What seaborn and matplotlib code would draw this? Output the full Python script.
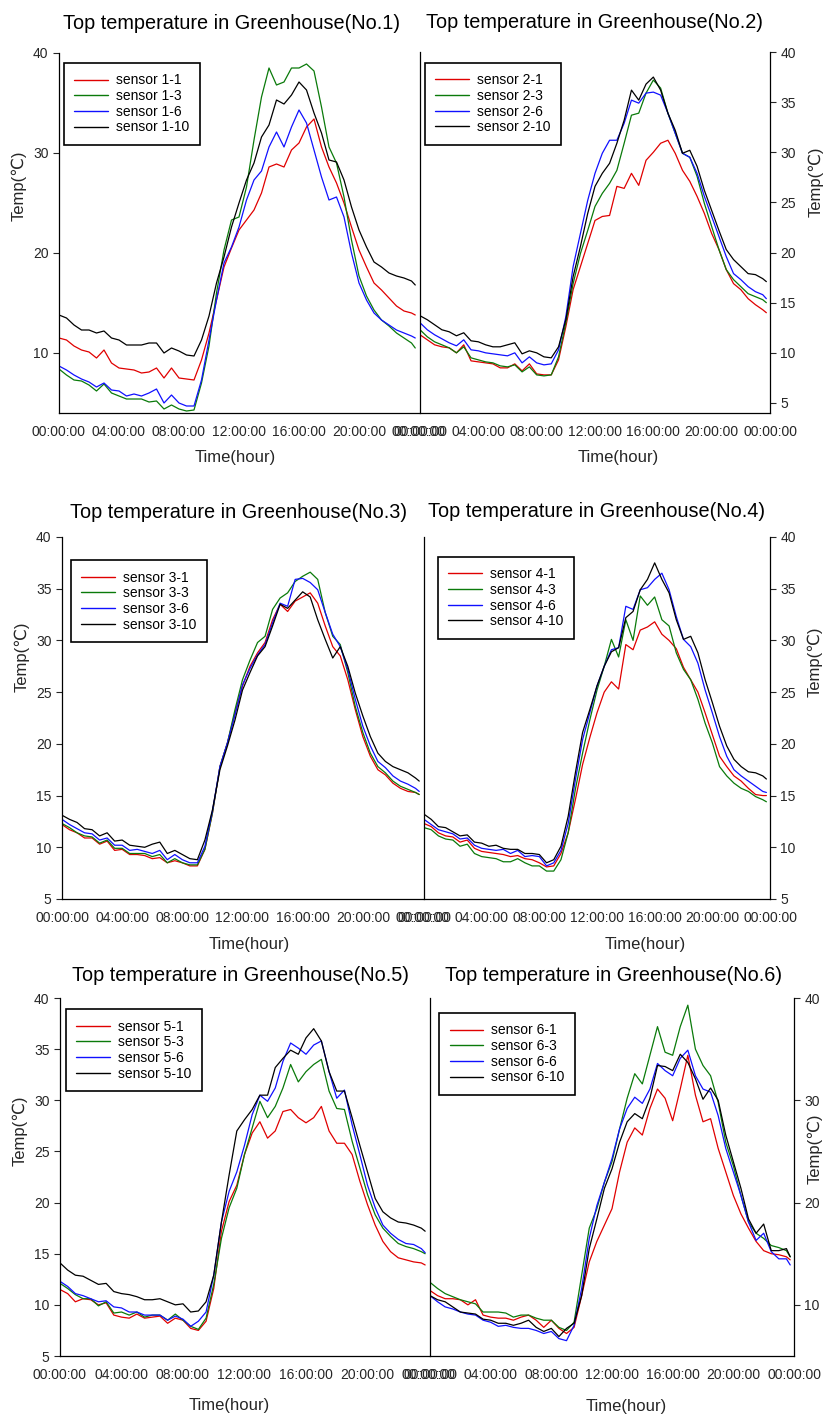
import pandas as pd
import matplotlib
matplotlib.use("Agg")
import matplotlib.pyplot as plt
import seaborn as sns
from matplotlib.lines import Line2D
from matplotlib.ticker import MultipleLocator

# -------------------------------
# Data (deg C every half hour)
# -------------------------------
HOURS = [0.0, 0.5, 1.0, 1.5, 2.0, 2.5, 3.0, 3.5, 4.0, 4.5, 5.0, 5.5,
         6.0, 6.5, 7.0, 7.5, 8.0, 8.5, 9.0, 9.5, 10.0, 10.5, 11.0, 11.5,
         12.0, 12.5, 13.0, 13.5, 14.0, 14.5, 15.0, 15.5, 16.0, 16.5, 17.0, 17.5,
         18.0, 18.5, 19.0, 19.5, 20.0, 20.5, 21.0, 21.5, 22.0, 22.5, 23.0, 23.5,
         23.75]

TICK_HOURS = [0, 4, 8, 12, 16, 20, 24]
TICK_LABELS = ["00:00:00", "04:00:00", "08:00:00", "12:00:00",
               "16:00:00", "20:00:00", "00:00:00"]

SENSORS = ["1", "3", "6", "10"]
COLORS = ["#e00000", "#0a7a0a", "#1010ff", "#000000"]

# Greenhouse No.1
GH1_S1 = [11.5, 11.3, 10.7, 10.3, 10.1, 9.5, 10.3, 9.0, 8.5, 8.4, 8.3, 8.0, 8.1, 8.5, 7.5, 8.5, 7.5, 7.4, 7.3,
          9.3, 12.0, 15.3, 18.6, 20.5, 22.3, 23.3, 24.3, 26.0, 28.6, 28.9, 28.6, 30.3, 31.0, 32.6, 33.4,
          30.6, 28.6, 27.0, 25.0, 22.6, 20.3, 18.6, 17.0, 16.3, 15.5, 14.7, 14.2, 14.0, 13.8]
GH1_S3 = [8.4, 7.8, 7.3, 7.2, 6.8, 6.2, 6.9, 6.0, 5.7, 5.4, 5.4, 5.4, 5.1, 5.2, 4.4, 4.8, 4.4, 4.2, 4.3,
          7.0, 10.7, 16.0, 20.3, 23.3, 23.6, 26.6, 31.3, 35.6, 38.5, 36.8, 37.1, 38.5, 38.5, 38.9, 38.2,
          34.6, 30.6, 29.0, 25.6, 21.3, 17.7, 15.7, 14.3, 13.3, 12.7, 12.0, 11.5, 11.0, 10.5]
GH1_S6 = [8.7, 8.3, 7.8, 7.4, 7.1, 6.6, 7.0, 6.3, 6.2, 5.7, 5.9, 5.7, 6.0, 6.4, 5.0, 5.8, 5.0, 4.7, 4.7,
          7.3, 11.3, 15.3, 19.0, 20.6, 22.6, 25.3, 27.3, 28.2, 30.6, 32.1, 30.6, 32.6, 34.3, 33.0, 30.3,
          27.6, 25.3, 25.6, 23.6, 20.0, 17.0, 15.3, 14.0, 13.3, 12.8, 12.3, 12.0, 11.7, 11.5]
GH1_S10 = [13.8, 13.5, 12.8, 12.3, 12.3, 12.0, 12.2, 11.5, 11.3, 10.8, 10.8, 10.8, 11.0, 11.0, 10.0, 10.5, 10.2, 9.8, 9.7,
           11.3, 13.7, 17.0, 19.6, 22.6, 25.0, 27.3, 29.0, 31.6, 32.8, 35.3, 34.9, 35.8, 37.1, 36.3, 34.0,
           32.0, 29.3, 29.1, 27.3, 24.6, 22.3, 20.6, 19.1, 18.6, 18.0, 17.7, 17.5, 17.2, 16.8]

# Greenhouse No.2
GH2_S1 = [11.8, 11.3, 10.8, 10.6, 10.5, 10.0, 10.8, 9.2, 9.1, 9.0, 8.9, 8.5, 8.5, 8.9, 8.2, 8.9, 7.9, 7.8, 7.8,
          9.3, 12.6, 16.3, 18.6, 20.9, 23.2, 23.6, 23.7, 26.6, 26.4, 27.9, 26.7, 29.2, 30.0, 30.9, 31.2,
          29.9, 28.2, 27.1, 25.6, 23.9, 21.9, 20.3, 18.3, 16.9, 16.3, 15.4, 14.8, 14.3, 14.0]
GH2_S3 = [12.3, 11.6, 11.1, 10.8, 10.5, 10.0, 10.6, 9.5, 9.3, 9.1, 9.0, 8.7, 8.6, 8.8, 8.1, 8.6, 7.8, 7.7, 7.8,
          9.6, 13.0, 16.9, 19.9, 22.2, 24.6, 25.9, 26.9, 28.2, 30.9, 33.7, 33.9, 35.9, 37.2, 36.4, 33.9,
          31.9, 29.9, 29.5, 27.6, 24.9, 22.6, 20.3, 18.3, 17.3, 16.6, 15.9, 15.6, 15.3, 15.0]
GH2_S6 = [13.0, 12.3, 11.8, 11.4, 11.0, 10.7, 11.3, 10.3, 10.2, 10.0, 9.9, 9.8, 9.7, 10.0, 9.0, 9.6, 9.0, 8.8, 8.9,
          10.3, 13.6, 18.6, 21.9, 25.2, 27.9, 29.9, 31.2, 31.2, 32.9, 35.2, 34.9, 35.9, 36.0, 35.7, 33.9,
          31.9, 29.9, 29.5, 27.9, 25.6, 23.6, 21.6, 19.6, 17.9, 17.3, 16.6, 16.1, 15.8, 15.4]
GH2_S10 = [13.7, 13.3, 12.8, 12.3, 12.1, 11.7, 12.0, 11.2, 11.1, 10.8, 10.6, 10.6, 10.8, 11.0, 9.9, 10.2, 10.0, 9.6, 9.5,
           10.6, 13.3, 17.6, 20.6, 23.9, 26.6, 27.9, 28.9, 30.9, 33.2, 36.2, 35.2, 36.8, 37.5, 36.2, 33.9,
           32.2, 29.9, 30.2, 28.6, 26.2, 24.2, 22.2, 20.3, 19.3, 18.6, 17.9, 17.8, 17.4, 17.1]

# Greenhouse No.3
GH3_S1 = [12.2, 11.7, 11.4, 10.9, 10.9, 10.3, 10.6, 9.7, 9.8, 9.3, 9.3, 9.2, 8.9, 9.0, 8.5, 8.7, 8.5, 8.2, 8.2,
          9.8, 13.3, 17.8, 20.1, 23.0, 25.6, 27.5, 28.8, 29.8, 32.0, 33.5, 32.8, 33.8, 34.2, 34.6, 33.6,
          31.4, 29.4, 28.5, 26.2, 23.3, 20.7, 18.8, 17.5, 17.0, 16.2, 15.7, 15.4, 15.3, 15.1]
GH3_S3 = [12.3, 11.9, 11.4, 11.1, 11.0, 10.4, 10.7, 9.9, 9.9, 9.4, 9.4, 9.4, 9.1, 9.3, 8.5, 8.9, 8.5, 8.3, 8.3,
          9.8, 13.3, 17.8, 20.1, 23.3, 26.2, 28.1, 29.8, 30.4, 33.0, 34.1, 34.6, 35.7, 36.2, 36.6, 35.9,
          32.7, 30.4, 29.6, 26.9, 23.6, 21.1, 19.1, 17.8, 17.2, 16.4, 15.9, 15.6, 15.3, 15.1]
GH3_S6 = [12.7, 12.2, 11.8, 11.4, 11.3, 10.7, 10.9, 10.2, 10.2, 9.7, 9.8, 9.6, 9.4, 9.7, 8.8, 9.3, 8.8, 8.5, 8.5,
          10.1, 13.5, 17.8, 20.1, 22.8, 25.7, 27.3, 28.6, 29.6, 31.7, 33.6, 33.3, 35.9, 36.0, 35.6, 34.9,
          32.7, 30.6, 29.4, 27.2, 24.3, 21.7, 19.8, 18.3, 17.7, 16.9, 16.4, 16.1, 15.7, 15.4]
GH3_S10 = [13.1, 12.7, 12.4, 11.8, 11.7, 11.1, 11.4, 10.6, 10.7, 10.2, 10.1, 10.0, 10.3, 10.5, 9.4, 9.7, 9.3, 8.9, 8.8,
           10.7, 13.6, 17.5, 19.8, 22.3, 25.2, 26.9, 28.5, 29.4, 31.4, 33.5, 33.1, 33.9, 34.7, 34.2, 32.0,
           30.1, 28.3, 29.4, 27.5, 24.9, 22.7, 20.7, 19.1, 18.3, 17.8, 17.5, 17.2, 16.7, 16.4]

# Greenhouse No.4
GH4_S1 = [12.3, 12.0, 11.4, 11.1, 11.0, 10.5, 10.7, 9.9, 9.6, 9.5, 9.4, 9.3, 9.1, 9.2, 8.9, 8.8, 8.5, 8.1, 8.2,
          9.4, 11.4, 14.6, 18.0, 20.6, 23.0, 25.0, 26.0, 25.3, 29.6, 29.1, 31.0, 31.3, 31.8, 30.6, 30.0,
          29.2, 27.4, 26.2, 25.0, 23.0, 20.9, 18.8, 17.8, 16.9, 16.4, 15.7, 15.1, 15.0, 15.0]
GH4_S3 = [11.9, 11.7, 11.1, 10.8, 10.7, 10.1, 10.3, 9.4, 9.1, 9.0, 8.9, 8.6, 8.6, 8.9, 8.5, 8.2, 8.2, 7.7, 7.7,
          8.8, 11.4, 15.6, 19.1, 22.3, 25.2, 27.5, 30.1, 28.4, 32.0, 30.0, 34.3, 33.4, 34.2, 32.0, 31.4,
          28.8, 27.2, 26.2, 24.3, 22.0, 20.1, 17.8, 16.9, 16.2, 15.7, 15.4, 14.9, 14.6, 14.4]
GH4_S6 = [12.7, 12.2, 11.7, 11.5, 11.3, 10.8, 10.9, 10.2, 9.9, 9.8, 9.7, 9.8, 9.4, 9.7, 9.1, 9.2, 9.1, 8.2, 8.5,
          9.7, 12.3, 16.5, 20.4, 23.0, 25.6, 27.5, 29.1, 29.3, 33.3, 33.0, 34.9, 35.1, 35.9, 36.5, 34.9,
          32.3, 30.1, 29.4, 27.8, 25.2, 23.0, 20.7, 18.8, 17.5, 16.9, 16.4, 15.9, 15.4, 15.3]
GH4_S10 = [13.2, 12.7, 12.0, 11.9, 11.5, 11.1, 11.2, 10.5, 10.4, 10.1, 10.2, 9.9, 9.8, 9.8, 9.4, 9.4, 9.3, 8.5, 8.8,
           10.1, 13.0, 17.2, 21.1, 23.3, 25.6, 27.5, 28.9, 29.3, 32.2, 32.8, 34.9, 35.9, 37.5, 35.9, 34.6,
           32.0, 30.1, 30.4, 28.8, 26.2, 24.0, 21.7, 19.8, 18.5, 17.8, 17.3, 17.2, 16.9, 16.6]

# Greenhouse No.5
GH5_S1 = [11.5, 11.1, 10.3, 10.6, 10.5, 10.0, 10.2, 9.0, 8.8, 8.7, 9.1, 8.7, 8.8, 8.9, 8.2, 8.7, 8.5, 7.7, 7.5,
          8.4, 11.6, 17.2, 20.1, 21.7, 24.7, 26.8, 27.9, 26.3, 27.0, 28.9, 29.1, 28.3, 27.8, 28.3, 29.4,
          27.0, 25.8, 25.8, 24.7, 22.1, 19.8, 17.8, 16.2, 15.2, 14.6, 14.4, 14.2, 14.1, 13.9]
GH5_S3 = [12.1, 11.6, 11.0, 10.6, 10.6, 9.9, 10.3, 9.2, 9.3, 9.0, 9.3, 8.8, 9.0, 9.0, 8.5, 9.1, 8.5, 7.9, 7.6,
          8.7, 12.0, 16.5, 19.5, 21.4, 24.7, 27.3, 29.9, 28.3, 29.4, 31.2, 33.5, 31.8, 32.8, 33.5, 34.0,
          30.9, 29.2, 29.1, 26.0, 23.4, 20.8, 18.8, 17.5, 16.7, 16.0, 15.7, 15.5, 15.2, 15.0]
GH5_S6 = [12.3, 11.8, 11.1, 10.9, 10.6, 10.3, 10.4, 9.8, 9.7, 9.3, 9.3, 9.0, 9.0, 9.0, 8.5, 8.9, 8.6, 7.9, 8.4,
          9.3, 12.9, 18.1, 21.1, 23.0, 25.6, 28.6, 30.5, 29.9, 31.2, 33.8, 35.6, 35.1, 34.5, 35.4, 35.8,
          32.8, 30.2, 31.0, 27.6, 24.7, 21.7, 19.5, 17.8, 17.0, 16.4, 16.0, 15.9, 15.5, 15.1]
GH5_S10 = [14.1, 13.4, 12.9, 12.8, 12.4, 12.0, 12.1, 11.3, 11.1, 11.0, 10.8, 10.5, 10.5, 10.6, 10.3, 10.0, 10.1, 9.3, 9.4,
           10.3, 12.9, 18.1, 22.7, 27.0, 28.1, 29.1, 30.5, 30.5, 33.2, 34.1, 34.9, 34.5, 36.1, 37.0, 35.8,
           32.8, 30.9, 30.9, 28.3, 25.6, 23.0, 20.4, 19.1, 18.5, 18.1, 18.0, 17.8, 17.5, 17.2]

# Greenhouse No.6
GH6_S1 = [11.4, 10.9, 10.6, 10.6, 10.5, 10.0, 10.5, 9.0, 8.8, 8.7, 8.7, 8.5, 8.8, 9.0, 8.5, 7.8, 8.5, 7.7, 7.2,
          7.8, 10.9, 14.2, 16.2, 17.8, 19.4, 23.0, 25.9, 27.3, 26.6, 29.2, 31.1, 30.2, 28.0, 31.1, 34.4,
          30.5, 27.9, 28.2, 25.3, 23.0, 20.7, 18.9, 17.5, 16.2, 15.3, 15.0, 14.9, 14.7, 14.4]
GH6_S3 = [12.2, 11.6, 11.1, 10.8, 10.5, 10.3, 10.1, 9.3, 9.3, 9.3, 9.2, 8.8, 9.0, 9.0, 8.7, 8.5, 8.5, 7.8, 7.5,
          8.3, 12.9, 17.5, 19.4, 22.0, 24.0, 27.2, 30.2, 32.6, 31.6, 34.4, 37.2, 34.7, 34.4, 37.2, 39.3,
          35.0, 33.4, 32.4, 29.8, 25.9, 23.6, 20.7, 18.1, 17.0, 16.5, 15.8, 15.6, 15.3, 14.7]
GH6_S6 = [10.9, 10.3, 9.8, 9.6, 9.3, 9.1, 9.0, 8.5, 8.3, 7.9, 8.0, 7.8, 7.7, 7.7, 7.5, 7.2, 7.4, 6.7, 6.5,
          8.0, 11.6, 16.5, 19.7, 22.0, 24.3, 27.2, 29.2, 30.3, 29.7, 31.1, 33.6, 32.9, 32.4, 34.1, 34.9,
          32.4, 31.1, 30.8, 28.5, 25.3, 23.0, 20.7, 18.1, 16.3, 17.0, 15.2, 14.5, 14.5, 13.9]
GH6_S10 = [10.9, 10.5, 10.3, 9.8, 9.3, 9.2, 9.1, 8.6, 8.5, 8.2, 8.2, 8.0, 8.2, 8.5, 7.8, 7.4, 7.7, 6.9, 7.7,
           8.2, 10.9, 15.5, 18.4, 21.4, 23.3, 25.9, 27.9, 28.7, 28.2, 30.2, 33.4, 33.3, 32.9, 34.5, 33.7,
           32.1, 30.1, 31.2, 30.0, 26.6, 24.0, 21.4, 18.4, 17.0, 17.9, 15.3, 15.3, 15.5, 14.7]

GREENHOUSES = {
    1: [GH1_S1, GH1_S3, GH1_S6, GH1_S10],
    2: [GH2_S1, GH2_S3, GH2_S6, GH2_S10],
    3: [GH3_S1, GH3_S3, GH3_S6, GH3_S10],
    4: [GH4_S1, GH4_S3, GH4_S6, GH4_S10],
    5: [GH5_S1, GH5_S3, GH5_S6, GH5_S10],
    6: [GH6_S1, GH6_S3, GH6_S6, GH6_S10],
}

# -------------------------------
# Layout (pixel boxes on an 826x1418 canvas)
# -------------------------------
W, H = 826, 1418
LAYOUT = {
    # no: (x0, x1, y0, y1, ymin, ytick step, side, title x, title pad, xlabel x, xlabel y, ylabel x, ylabel y, legend x, legend y)
    1: (59, 419, 53, 413, 4, 10, "left", 0.48, 17.3, 0.49, -0.103, -0.089, 0.63, 0.014, 0.972),
    2: (420, 770, 52, 413, 4, 5, "right", 0.50, 17.3, 0.566, -0.102, 1.109, 0.64, 0.014, 0.970),
    3: (62, 423, 537, 899, 5, 5, "left", 0.49, 13.7, 0.52, -0.105, -0.089, 0.67, 0.025, 0.936),
    4: (424, 770, 537, 899, 5, 5, "right", 0.50, 14.4, 0.64, -0.105, 1.107, 0.655, 0.040, 0.945),
    5: (60, 429, 998, 1356, 5, 5, "left", 0.49, 12.2, 0.46, -0.117, -0.089, 0.63, 0.016, 0.969),
    6: (430, 794, 998, 1356, 5, 10, "right", 0.503, 12.2, 0.54, -0.120, 1.036, 0.58, 0.025, 0.958),
}


def build_frame(no):
    """Long-form table for one greenhouse."""
    rows = []
    for sid, values in zip(SENSORS, GREENHOUSES[no]):
        rows.append(pd.DataFrame({"hour": HOURS, "temp": values,
                                  "sensor": f"sensor {no}-{sid}"}))
    return pd.concat(rows, ignore_index=True)


def draw_panel(fig, no):
    x0, x1, y0, y1, ymin, ystep, side, tx, tpad, lx, ly, yx, yy, gx, gy = LAYOUT[no]
    ax = fig.add_axes([x0 / W, 1 - y1 / H, (x1 - x0) / W, (y1 - y0) / H])
    df = build_frame(no)
    labels = [f"sensor {no}-{s}" for s in SENSORS]

    sns.lineplot(data=df, x="hour", y="temp", hue="sensor", hue_order=labels,
                 palette=COLORS, linewidth=0.9, estimator=None, legend=False, ax=ax)

    ax.set_xlim(0, 24)
    ax.set_ylim(ymin, 40)
    ax.set_xticks(TICK_HOURS)
    ax.set_xticklabels(TICK_LABELS)
    ax.xaxis.set_minor_locator(MultipleLocator(1))
    ax.set_yticks(list(range(40 - ystep * (35 // ystep), 41, ystep)))

    ax.spines["top"].set_visible(False)
    for sp in ax.spines.values():
        sp.set_linewidth(0.9)
        sp.set_color("black")
    ax.tick_params(axis="x", which="major", direction="out", length=4.5, width=0.8,
                   pad=4, labelsize=10, top=False)
    ax.tick_params(axis="x", which="minor", direction="out", length=2.5, width=0.8, top=False)

    if side == "left":
        ax.spines["right"].set_visible(False)
        ax.tick_params(axis="y", direction="out", length=4.5, width=0.8, pad=3,
                       labelsize=10, left=True, right=False)
    else:
        ax.yaxis.tick_right()
        ax.yaxis.set_label_position("right")
        ax.tick_params(axis="y", direction="out", length=4.5, width=0.8, pad=3,
                       labelsize=10, left=False, right=True)

    ax.set_title(f"Top temperature in Greenhouse(No.{no})", fontsize=14.3, x=tx, pad=tpad)
    ax.set_xlabel("Time(hour)", fontsize=12)
    ax.set_ylabel("Temp(℃)", fontsize=12)
    ax.xaxis.set_label_coords(lx, ly)
    ax.yaxis.set_label_coords(yx, yy)

    handles = [Line2D([], [], color=c, linewidth=1.0) for c in COLORS]
    leg = ax.legend(handles, labels, loc="upper left", bbox_to_anchor=(gx, gy),
                    borderaxespad=0, fontsize=10, frameon=True, fancybox=False,
                    framealpha=1, edgecolor="black", borderpad=0.75,
                    labelspacing=0.12, handlelength=2.4, handletextpad=0.6)
    leg.get_frame().set_linewidth(1.2)
    return ax


def main():
    sns.set_style("white")
    plt.rcParams["font.family"] = ["Liberation Sans", "DejaVu Sans"]
    plt.rcParams["axes.titlecolor"] = "black"
    plt.rcParams["text.color"] = "black"

    fig = plt.figure(figsize=(W / 100, H / 100), dpi=100)
    fig.patch.set_facecolor("white")
    for no in LAYOUT:
        draw_panel(fig, no)
    fig.savefig("out.png", dpi=100, facecolor="white")
    plt.close(fig)


if __name__ == "__main__":
    main()
